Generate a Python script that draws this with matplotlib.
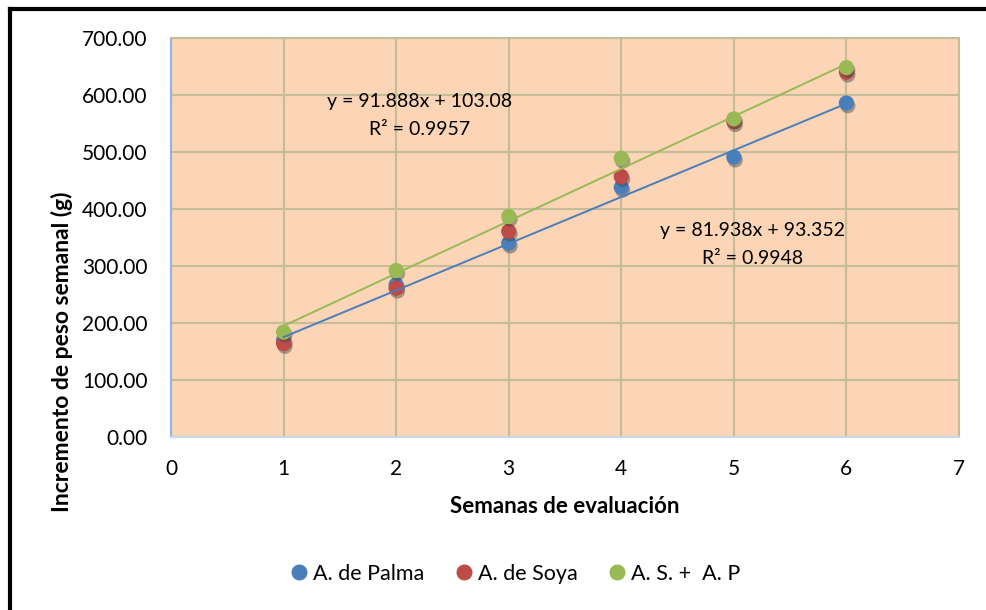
import matplotlib.pyplot as plt
import matplotlib.patheffects as pe
from matplotlib.lines import Line2D

semanas = [1, 2, 3, 4, 5, 6]
palma = [170, 267, 340, 438, 491, 586]
soya = [164, 261, 361, 457, 553, 640]
mezcla = [184, 292, 387, 489, 558, 648]

series = ["A. de Palma", "A. de Soya", "A. S. +  A. P"]
colores = ["#4A7EBB", "#BE4B48", "#98B954"]

# trendline coefficients as shown on the chart
fit_palma = (81.938, 93.352)
fit_mezcla = (91.888, 103.08)

plt.rcParams["font.family"] = ["Lato", "DejaVu Sans"]
plt.rcParams["font.size"] = 15

W, H = 986, 610
fig = plt.figure(figsize=(W / 100, H / 100), dpi=100)
ax = fig.add_axes([171 / W, 173 / H, 788 / W, 399 / H])
ax.set_facecolor("#FBD5B5")

grid_c = "#C4BD97"
ax.grid(True, color=grid_c, linewidth=1.5, zorder=0)
ax.set_axisbelow(True)

shadow = [pe.SimplePatchShadow(offset=(1, -2), alpha=0.45, shadow_rgbFace="#444444"), pe.Normal()]
for i, (vals, name) in enumerate(zip([palma, soya, mezcla], series)):
    ax.scatter(semanas, vals, s=120, color=colores[i], zorder=3 + i, label=name,
               path_effects=shadow, edgecolors="none")

xs = [semanas[0], semanas[-1]]
ax.plot(xs, [fit_palma[0] * x + fit_palma[1] for x in xs], color=colores[0], lw=1.4, zorder=6)
ax.plot(xs, [fit_mezcla[0] * x + fit_mezcla[1] for x in xs], color=colores[2], lw=1.4, zorder=6)

ax.text(2.21, 589, "y = 91.888x + 103.08", ha="center", va="center", fontsize=14, zorder=7)
ax.text(2.21, 540, "R² = 0.9957", ha="center", va="center", fontsize=14, zorder=7)
ax.text(5.17, 363, "y = 81.938x + 93.352", ha="center", va="center", fontsize=14, zorder=7)
ax.text(5.17, 314, "R² = 0.9948", ha="center", va="center", fontsize=14, zorder=7)

ax.set_xlim(0, 7)
ax.set_ylim(0, 700)
ax.set_xticks(range(0, 8))
ax.set_yticks(range(0, 701, 100))
ax.set_yticklabels([f"{v:.2f}" for v in range(0, 701, 100)])
ax.tick_params(length=0)
ax.tick_params(axis="y", pad=17)
ax.tick_params(axis="x", pad=16)

ax.spines["left"].set_color("#8DB4E2")
ax.spines["bottom"].set_color("#C6D9F1")
ax.spines["top"].set_color(grid_c)
ax.spines["right"].set_color(grid_c)
for s in ax.spines.values():
    s.set_linewidth(1.5)

ax.set_xlabel("Semanas de evaluación", fontweight="bold", fontsize=16, labelpad=12)
fig.text(62 / W, 1 - 352 / H, "Incremento de peso semanal (g)", rotation=90,
         ha="center", va="center", fontweight="bold", fontsize=16.5)

handles = [Line2D([], [], marker="o", ls="none", color=c, markersize=10.5) for c in colores]
fig.legend(handles, series, loc="center", bbox_to_anchor=(516 / W, 1 - 574 / H), ncol=3,
           frameon=False, handlelength=0.7, handletextpad=0.3, columnspacing=1.5, fontsize=15.5)

# outer border (left and top only visible)
fig.add_artist(Line2D([10 / W, 10 / W], [0, 1 - 9 / H], color="black", lw=3, transform=fig.transFigure))
fig.add_artist(Line2D([10 / W, 1], [1 - 9 / H, 1 - 9 / H], color="black", lw=3, transform=fig.transFigure))

fig.savefig("out.png", dpi=100)
